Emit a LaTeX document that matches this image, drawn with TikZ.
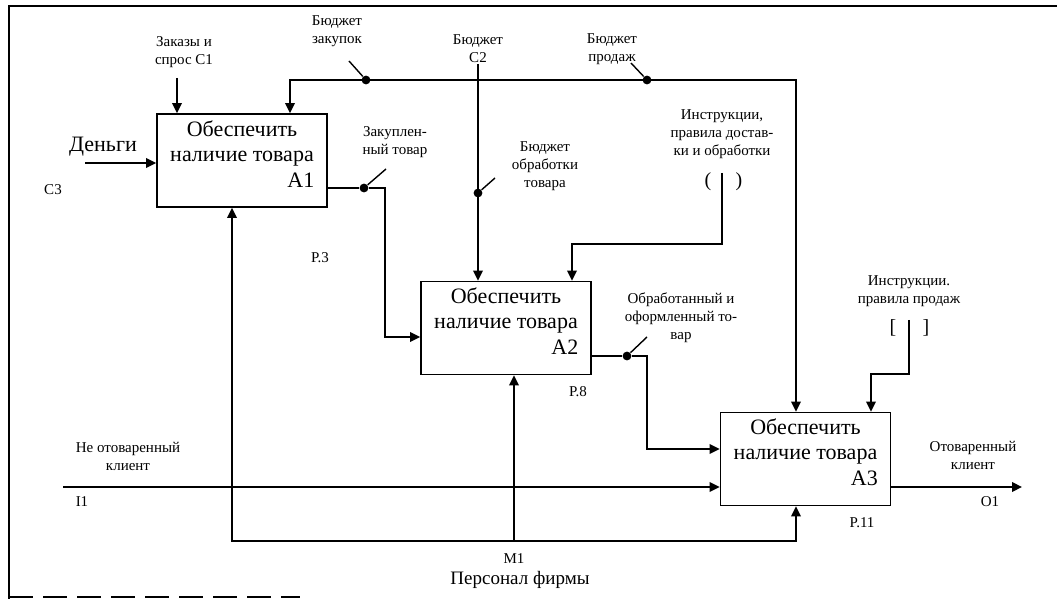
\documentclass[tikz,border=0pt]{standalone}
\usepackage{fontspec}
\setmainfont{Liberation Serif}
\usetikzlibrary{arrows.meta}
\begin{document}
\begin{tikzpicture}[x=0.5pt,y=-0.5pt,
  fbox/.style={draw, line width=0.9pt, minimum width=85pt, minimum height=46.5pt, inner sep=0pt},
  btext/.style={font=\fontsize{11}{12.5}\selectfont, align=center, inner sep=0pt},
  lbl/.style={font=\fontsize{7.5}{9}\selectfont, align=center, inner sep=0pt},
  brk/.style={font=\fontsize{10}{12}\selectfont, inner sep=0pt},
  conn/.style={line width=0.85pt, line join=miter},
  tip/.tip={Triangle[length=5pt,width=4.8pt]},
  arr/.style={conn, -tip},
  darr/.style={conn, tip-tip},
  dotn/.style={circle, fill, inner sep=0pt, minimum size=4.4pt},
  lead/.style={line width=0.7pt},
  frame/.style={line width=0.8pt}
]
\useasboundingbox (0,0) rectangle (1057,599);

% frame
\draw[frame] (9,599) -- (9,6) -- (1057,6);
\draw[frame, dash pattern=on 12pt off 5pt] (9,597) -- (300,597);

% boxes
\node[fbox] (A1) at (242,160.5) {};
\node[fbox] (A2) at (506,328) {};
\node[fbox] (A3) at (805.5,459) {};
\path (A1.north) ++(0,30) node[btext] (A1t) {Обеспечить\\наличие товара};
\path (A2.north) ++(0,30) node[btext] (A2t) {Обеспечить\\наличие товара};
\path (A3.north) ++(0,30) node[btext] (A3t) {Обеспечить\\наличие товара};
\path (A1.north east) ++(-27,67) node[btext] (A1n) {A1};
\path (A2.north east) ++(-27,67) node[btext] (A2n) {A2};
\path (A3.north east) ++(-27,67) node[btext] (A3n) {A3};

% node numbers
\node[lbl] (p3) at (320,258) {P.3};
\node[lbl] (p8) at (578,392) {P.8};
\node[lbl] (p11) at (862,523) {P.11};

% C1
\coordinate (c1) at (177,78);
\draw[arr] (c1) -- (c1 |- A1.north);
\node[lbl] (c1l) at (184,52) {Заказы и\\спрос C1};

% C3 money
\coordinate (m0) at (85,163);
\draw[arr] (m0) -- (m0 -| A1.west);
\node[btext] (mon) at (103,147) {Деньги};
\node[lbl] (c3l) at (53,190) {C3};

% budget line
\coordinate (bL) at (290,80);
\coordinate (bR) at (796,80);
\draw[darr] (bL |- A1.north) -- (bL) -- (bR) -- (bR |- A3.north);
\node[dotn] (d1) at (366,80) {};
\node[dotn] (d2) at (647,80) {};
\coordinate (l1) at (349,61);
\coordinate (l2) at (631,63);
\draw[lead] (l1) -- (d1);
\draw[lead] (l2) -- (d2);
\node[lbl] (bz) at (337,31) {Бюджет\\закупок};
\node[lbl] (bp) at (612,49) {Бюджет\\продаж};

% C2
\coordinate (c2) at (478,64);
\draw[arr] (c2) -- (c2 |- A2.north);
\node[lbl] (c2l) at (478,49) {Бюджет\\C2};
\node[dotn] (d3) at (478,193) {};
\coordinate (l3) at (495,178);
\draw[lead] (l3) -- (d3);
\node[lbl] (bo) at (545,166) {Бюджет\\обработки\\товара};

% instructions 1
\node[lbl] (i1l) at (722,134) {Инструкции,\\правила достав-\\ки и обработки};
\node[brk] (i1a) at (708,182) {(};
\node[brk] (i1b) at (739,182) {)};
\coordinate (i1) at (722,173);
\coordinate (i1c) at (572,244);
\draw[arr] (i1) |- (i1c) -- (i1c |- A2.north);

% instructions 2
\node[lbl] (i2l) at (909,291) {Инструкции.\\правила продаж};
\node[brk] (i2a) at (893,328) {[};
\node[brk] (i2b) at (926,328) {]};
\coordinate (i2) at (909,320);
\coordinate (i2c) at (871,374);
\draw[arr] (i2) |- (i2c) -- (i2c |- A3.north);

% A1 -> A2
\node[dotn] (d4) at (364,188) {};
\coordinate (o1) at (385,337);
\draw[arr] (A1.east |- d4) -- (d4) -| (o1) -- (o1 -| A2.west);
\coordinate (l4) at (386,169);
\draw[lead] (l4) -- (d4);
\node[lbl] (zt) at (395,142) {Закуплен-\\ный товар};

% A2 -> A3
\node[dotn] (d5) at (627,356) {};
\coordinate (o2) at (647,449);
\draw[arr] (A2.east |- d5) -- (d5) -| (o2) -- (o2 -| A3.west);
\coordinate (l5) at (647,337);
\draw[lead] (l5) -- (d5);
\node[lbl] (ot) at (681,318) {Обработанный и\\оформленный то-\\вар};

% I1
\coordinate (in1) at (63,487);
\draw[arr] (in1) -- (in1 -| A3.west);
\node[lbl] (nk) at (128,456) {Не отоваренный\\клиент};
\node[lbl] (i1n) at (82,502) {I1};

% O1
\coordinate (out1) at (1022,487);
\draw[arr] (A3.east |- out1) -- (out1);
\node[lbl] (ok) at (973,455) {Отоваренный\\клиент};
\node[lbl] (o1n) at (990,502) {O1};

% mechanisms
\coordinate (mL) at (232,541);
\coordinate (mR) at (796,541);
\coordinate (mM) at (514,541);
\draw[darr] (mL |- A1.south) -- (mL) -- (mR) -- (mR |- A3.south);
\draw[arr] (mM) -- (mM |- A2.south);
\node[lbl] (m1n) at (514,559) {M1};
\node[font=\fontsize{9.5}{11}\selectfont, inner sep=0pt] (pf) at (520,580) {Персонал фирмы};
\end{tikzpicture}
\end{document}
